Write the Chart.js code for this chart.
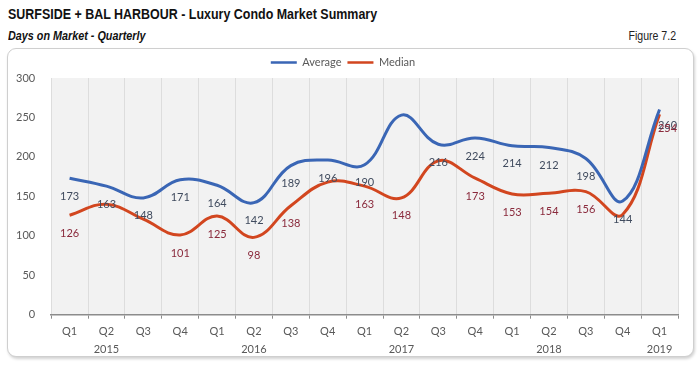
<!DOCTYPE html>
<html>
<head>
<meta charset="utf-8">
<script src="https://cdn.jsdelivr.net/npm/chart.js@4"></script>
<style>
  body { margin: 0; background: #fff; width: 700px; height: 371px; overflow: hidden; position: relative; }
  #title { position: absolute; left: 8px; top: 6px; font: bold 14px "Liberation Sans", Arial, sans-serif; color: #111; transform: scaleX(0.89); transform-origin: left top; white-space: nowrap; }
  #sub { position: absolute; left: 8px; top: 29px; font: italic bold 12px "Liberation Sans", Arial, sans-serif; color: #111; transform: scaleX(0.9); transform-origin: left top; white-space: nowrap; }
  #fig { position: absolute; right: 24px; top: 29px; font: 12px "Liberation Sans", Arial, sans-serif; color: #222; transform: scaleX(0.88); transform-origin: right top; white-space: nowrap; }
  #box { position: absolute; left: 7px; top: 48px; width: 685px; height: 307px; border: 1px solid #cfcfcf; border-radius: 9px; box-shadow: 1px 2px 3px rgba(0,0,0,0.18); background: #fff; }
  #box canvas { position: absolute; left: 0; top: 0; }
</style>
</head>
<body>
<div id="title">SURFSIDE + BAL HARBOUR - Luxury Condo Market Summary</div>
<div id="sub">Days on Market - Quarterly</div>
<div id="fig">Figure 7.2</div>
<div id="box"><canvas id="chart" width="685" height="314"></canvas></div>
<script>
  // categories (quarter + year shown under the second quarter)
  const quarters = ["Q1","Q2","Q3","Q4","Q1","Q2","Q3","Q4","Q1","Q2","Q3","Q4","Q1","Q2","Q3","Q4","Q1"];
  const years = ["","2015","","","","2016","","","","2017","","","","2018","","","2019"];

  const average = [173, 163, 148, 171, 164, 142, 189, 196, 190, 253, 216, 224, 214, 212, 198, 144, 260];
  const median = [126, 140, 121, 101, 125, 98, 138, 168, 163, 148, 195, 173, 153, 154, 156, 127, 254];

  // labels not visible in the picture
  const avgHidden = [9];
  const medHidden = [1, 2, 7, 10, 15];

  const yTicks = [0, 50, 100, 150, 200, 250, 300];

  const labels = quarters.map((q, i) => years[i] ? [q, years[i]] : q);

  const plotBg = {
    id: "plotBg",
    beforeDraw(chart) {
      const { ctx, chartArea: a } = chart;
      ctx.save();
      ctx.fillStyle = "#f2f2f2";
      ctx.fillRect(a.left, a.top, a.right - a.left, a.bottom - a.top);
      ctx.restore();
    }
  };

  const valueLabels = {
    id: "valueLabels",
    afterDatasetsDraw(chart) {
      const ctx = chart.ctx;
      ctx.save();
      ctx.font = "11px Lato, 'Open Sans', sans-serif";
      ctx.textAlign = "center";
      ctx.textBaseline = "middle";
      chart.data.datasets.forEach((ds, di) => {
        const hidden = di === 0 ? avgHidden : medHidden;
        ctx.fillStyle = di === 0 ? "#404b5e" : "#8a2a3c";
        chart.getDatasetMeta(di).data.forEach((pt, i) => {
          if (hidden.includes(i)) return;
          let x = pt.x, y = pt.y + 18;
          if (i === ds.data.length - 1) { x += 8; y = pt.y + (di === 0 ? 16 : 14); }
          ctx.fillText(ds.data[i], x, y);
        });
      });
      ctx.restore();
    }
  };

  const font = { family: "Lato, 'Open Sans', sans-serif", size: 11 };

  new Chart(document.getElementById("chart"), {
    type: "line",
    data: {
      labels: labels,
      datasets: [
        { label: "Average", data: average, borderColor: "#3a66b5", backgroundColor: "#3a66b5", borderWidth: 3, tension: 0.4, pointRadius: 0 },
        { label: "Median", data: median, borderColor: "#d2461f", backgroundColor: "#d2461f", borderWidth: 3, tension: 0.4, pointRadius: 0 }
      ]
    },
    options: {
      responsive: false,
      animation: false,
      layout: { padding: { left: 0, right: 15, top: 2, bottom: 0 } },
      plugins: {
        legend: {
          position: "top",
          labels: {
            boxWidth: 26, boxHeight: 0, color: "#595959", padding: 6, font: font,
            generateLabels(chart) {
              return chart.data.datasets.map((ds, i) => ({
                text: ds.label, strokeStyle: ds.borderColor, fillStyle: ds.borderColor,
                lineWidth: 2.5, datasetIndex: i, fontColor: "#595959"
              }));
            }
          }
        },
        tooltip: { enabled: false }
      },
      scales: {
        x: {
          offset: true,
          grid: { offset: true, color: "#dddddd", tickColor: "#8c8c8c", tickLength: 4 },
          border: { color: "#8c8c8c", width: 1.5 },
          ticks: { color: "#595959", maxRotation: 0, autoSkip: false, padding: 4, font: { family: font.family, size: 11, lineHeight: 1.65 } }
        },
        y: {
          min: 0, max: 300,
          afterBuildTicks(scale) { scale.ticks = yTicks.map(v => ({ value: v })); },
          grid: { display: false },
          border: { display: false },
          ticks: { color: "#595959", padding: 8, font: font }
        }
      }
    },
    plugins: [plotBg, valueLabels]
  });
</script>
</body>
</html>
